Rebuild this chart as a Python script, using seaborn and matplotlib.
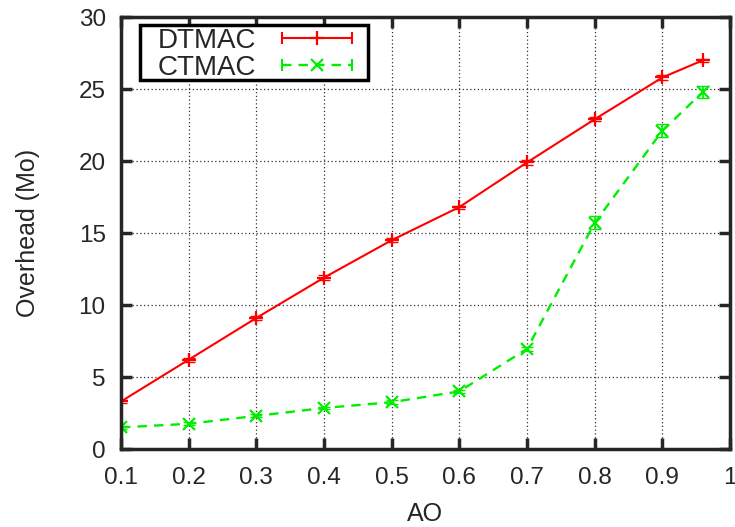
import numpy as np
import pandas as pd
import matplotlib
matplotlib.use('Agg')
import matplotlib.pyplot as plt
import seaborn as sns
from matplotlib.lines import Line2D
from matplotlib.patches import Rectangle
from matplotlib.legend_handler import HandlerLine2D, HandlerTuple

ao = [0.1, 0.2, 0.3, 0.4, 0.5, 0.6, 0.7, 0.8, 0.9, 0.96]
dtmac = [3.3, 6.2, 9.1, 11.9, 14.5, 16.8, 19.9, 22.9, 25.8, 27.0]
dtmac_err = [0.1, 0.15, 0.15, 0.15, 0.15, 0.1, 0.15, 0.15, 0.15, 0.1]
ctmac = [1.5, 1.75, 2.3, 2.85, 3.25, 4.0, 6.95, 15.7, 22.1, 24.8]
ctmac_err = [0.1, 0.1, 0.1, 0.1, 0.15, 0.1, 0.15, 0.45, 0.45, 0.4]
xtick_labels = ['0.1', '0.2', '0.3', '0.4', '0.5', '0.6', '0.7', '0.8', '0.9', '1']

sns.set_style('ticks')
plt.rcParams['font.family'] = ['Liberation Sans', 'DejaVu Sans']

df = pd.DataFrame({'AO': ao, 'DTMAC': dtmac, 'CTMAC': ctmac})

fig = plt.figure(figsize=(7.35, 5.27), dpi=100)
ax = fig.add_axes([0.1646, 0.148, 0.8286, 0.8197])

red = '#ff0000'
green = '#00ee00'
dash = (0, (4, 3))
fs = 17.5

sns.lineplot(data=df, x='AO', y='DTMAC', ax=ax, color=red, lw=1.5,
             marker='+', markersize=10, markeredgewidth=1.6,
             markeredgecolor=red, legend=False)
sns.lineplot(data=df, x='AO', y='CTMAC', ax=ax, color=green, lw=1.7,
             linestyle=dash, marker='x', markersize=8,
             markeredgewidth=1.6, markeredgecolor=green, legend=False)
ax.errorbar(ao, dtmac, yerr=dtmac_err, fmt='none', ecolor=red,
            elinewidth=1.2, capsize=4)
ax.errorbar(ao, ctmac, yerr=ctmac_err, fmt='none', ecolor=green,
            elinewidth=1.2, capsize=4)

ax.set_xlim(0.1, 1.0)
ax.set_ylim(0, 30)
ax.set_xticks(np.arange(0.1, 1.01, 0.1))
ax.set_xticklabels(xtick_labels)
ax.set_yticks(range(0, 31, 5))
ax.set_xlabel('AO', fontsize=18)
ax.set_ylabel('Overhead (Mo)', fontsize=18)
ax.xaxis.set_label_coords(0.5, -0.122)
ax.yaxis.set_label_coords(-0.133, 0.5)
ax.grid(True, color='#333333', linestyle=(0, (1, 2)), lw=0.9)
ax.tick_params(direction='in', length=8, width=2.5, top=True, right=True,
               labelsize=fs)
ax.tick_params(axis='x', pad=13)
ax.tick_params(axis='y', pad=11)
for s in ax.spines.values():
    s.set_linewidth(2.5)
    s.set_visible(True)

# legend box drawn by hand, gnuplot style keys (line with end caps + centre marker)
ax.add_patch(Rectangle((0.0312, 0.854), 0.3744, 0.127, transform=ax.transAxes,
                       facecolor='white', edgecolor='black', lw=2.5, zorder=4))
caps_d = Line2D([], [], color=red, lw=1.5, marker='|', markersize=9, markeredgewidth=1.5)
mid_d = Line2D([], [], color=red, lw=0, marker='+', markersize=10, markeredgewidth=1.6)
caps_c = Line2D([], [], color=green, lw=1.7, ls=dash, marker='|', markersize=9, markeredgewidth=1.5)
mid_c = Line2D([], [], color=green, lw=0, marker='x', markersize=8, markeredgewidth=1.6)
leg = ax.legend([(caps_d, mid_d), (caps_c, mid_c)], ['DTMAC', 'CTMAC'],
                handler_map={caps_d: HandlerLine2D(numpoints=2),
                             caps_c: HandlerLine2D(numpoints=2),
                             tuple: HandlerTuple(ndivide=1)},
                numpoints=1, loc='upper left', bbox_to_anchor=(0.0608, 0.975),
                fontsize=20, markerfirst=False, handlelength=3.15,
                borderpad=0, labelspacing=0.05, handletextpad=0.6,
                frameon=False, borderaxespad=0)
leg.set_zorder(5)

fig.savefig('out.png', dpi=100)
